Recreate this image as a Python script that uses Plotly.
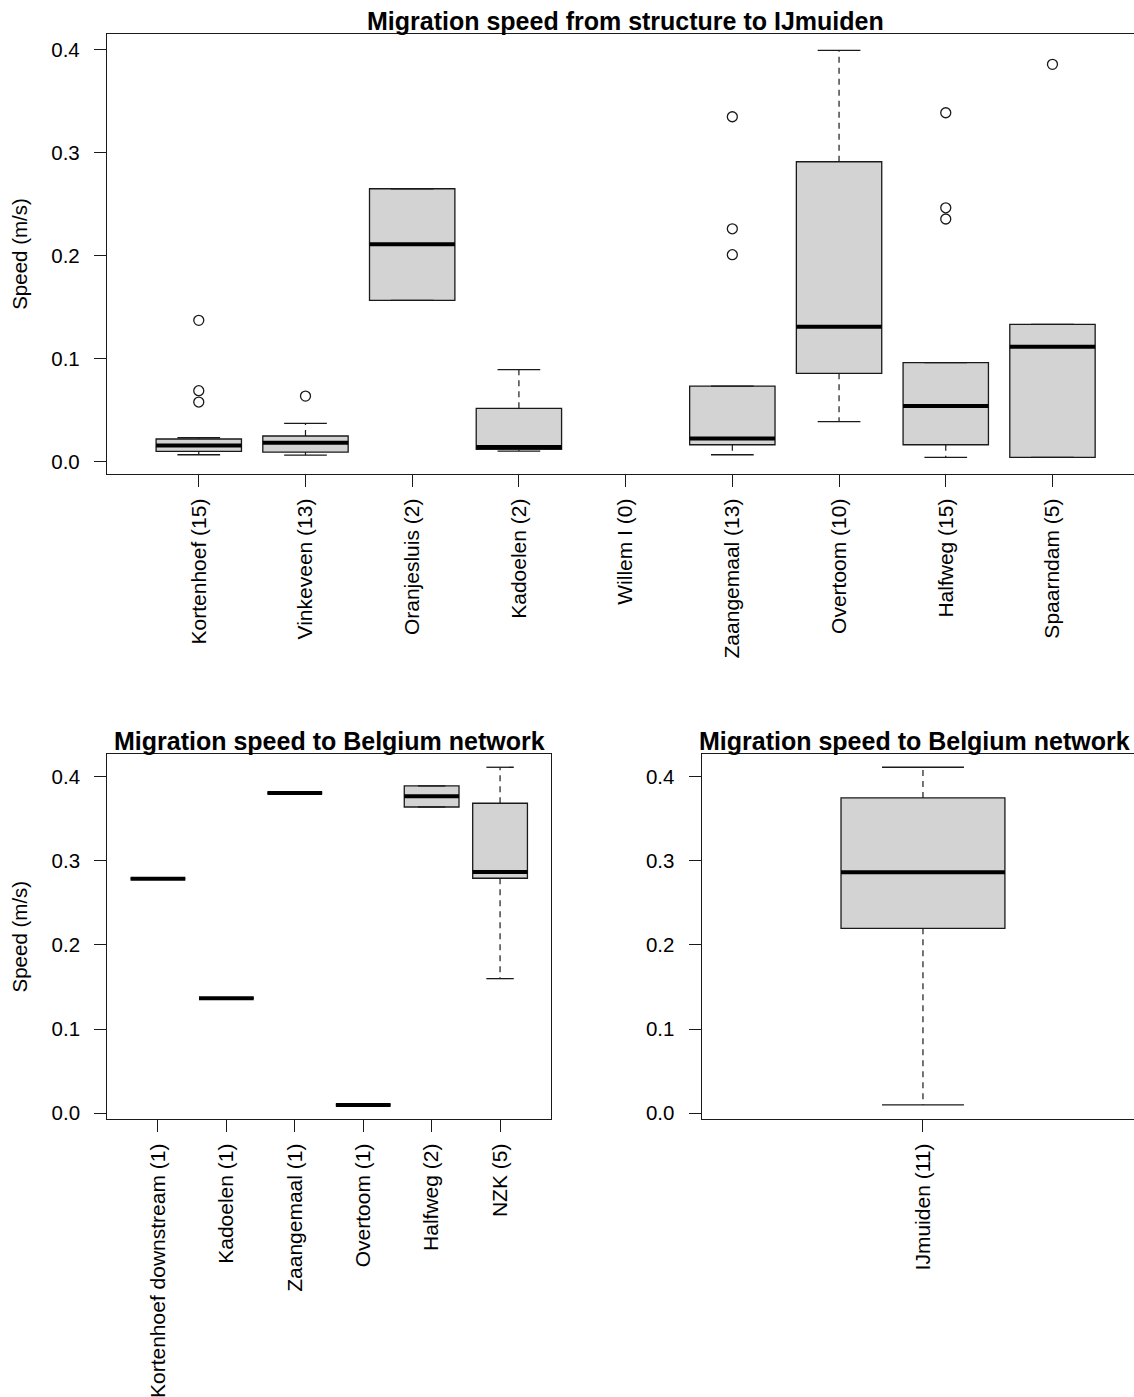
import plotly.graph_objects as go

W, H = 1134, 1397

# ---------------- data ----------------
top_labels = ["Kortenhoef (15)", "Vinkeveen (13)", "Oranjesluis (2)", "Kadoelen (2)", "Willem I (0)",
              "Zaangemaal (13)", "Overtoom (10)", "Halfweg (15)", "Spaarndam (5)"]
top_q1 = [0.0097, 0.0090, 0.1564, 0.0117, None, 0.0161, 0.0855, 0.0161, 0.0039]
top_med = [0.0155, 0.0181, 0.2108, 0.0139, None, 0.0223, 0.1307, 0.0537, 0.1113]
top_q3 = [0.0217, 0.0246, 0.2648, 0.0515, None, 0.0731, 0.2910, 0.0958, 0.1331]
top_lo = [0.0064, 0.0061, 0.1564, 0.0100, None, 0.0064, 0.0385, 0.0039, 0.0039]
top_hi = [0.0229, 0.0369, 0.2648, 0.0890, None, 0.0731, 0.3992, 0.0958, 0.1331]
top_out_group = ["Kortenhoef (15)"] * 3 + ["Vinkeveen (13)"] + ["Zaangemaal (13)"] * 3 + \
                ["Halfweg (15)"] * 3 + ["Spaarndam (5)"]
top_out_value = [0.137, 0.0686, 0.0576, 0.0634, 0.3347, 0.2259, 0.2007, 0.3386, 0.2463, 0.2354, 0.3856]

bl_labels = ["Kortenhoef downstream (1)", "Kadoelen (1)", "Zaangemaal (1)", "Overtoom (1)",
             "Halfweg (2)", "NZK (5)"]
bl_q1 = [0.2788, 0.1367, 0.3806, 0.0099, 0.3640, 0.2793]
bl_med = [0.2788, 0.1367, 0.3806, 0.0099, 0.3767, 0.2868]
bl_q3 = [0.2788, 0.1367, 0.3806, 0.0099, 0.3890, 0.3684]
bl_lo = [0.2788, 0.1367, 0.3806, 0.0099, 0.3640, 0.1600]
bl_hi = [0.2788, 0.1367, 0.3806, 0.0099, 0.3890, 0.4112]

br_labels = ["IJmuiden (11)"]
br_q1 = [0.2198]
br_med = [0.2864]
br_q3 = [0.3747]
br_lo = [0.0099]
br_hi = [0.4112]

y_ticks = [0.0, 0.1, 0.2, 0.3, 0.4]

title_top = "Migration speed from structure to IJmuiden"
title_bottom = "Migration speed to Belgium network"
y_title = "Speed (m/s)"

# ---------------- style ----------------
FONT = "Liberation Sans, Arial, sans-serif"
LINE = "#1a1a1a"
FILL = "#d3d3d3"

fig = go.Figure()


def add_panel(labels, q1, med, q3, lo, hi, xa, ya, boxw, out_group=None, out_value=None):
    pos = list(range(1, len(labels) + 1))
    idx = [i for i in range(len(labels)) if q1[i] is not None]
    xs = [pos[i] for i in idx]
    # whiskers (dashed)
    wx, wy = [], []
    for i in idx:
        wx += [pos[i], pos[i], None, pos[i], pos[i], None]
        wy += [q3[i], hi[i], None, q1[i], lo[i], None]
    fig.add_trace(go.Scatter(x=wx, y=wy, mode="lines", xaxis=xa, yaxis=ya,
                             line=dict(color=LINE, width=1.2, dash="6px,5px"),
                             hoverinfo="skip", showlegend=False))
    # staples
    cx, cy = [], []
    for i in idx:
        for v in (hi[i], lo[i]):
            cx += [pos[i] - boxw / 4, pos[i] + boxw / 4, None]
            cy += [v, v, None]
    fig.add_trace(go.Scatter(x=cx, y=cy, mode="lines", xaxis=xa, yaxis=ya,
                             line=dict(color=LINE, width=1.3),
                             hoverinfo="skip", showlegend=False))
    # boxes
    fig.add_trace(go.Box(x=xs, q1=[q1[i] for i in idx], median=[med[i] for i in idx],
                         q3=[q3[i] for i in idx], lowerfence=[q1[i] for i in idx],
                         upperfence=[q3[i] for i in idx], width=boxw, whiskerwidth=0,
                         fillcolor=FILL, line=dict(color=LINE, width=1.3),
                         boxpoints=False, xaxis=xa, yaxis=ya, showlegend=False))
    # thick medians
    mx, my = [], []
    for i in idx:
        mx += [pos[i] - boxw / 2, pos[i] + boxw / 2, None]
        my += [med[i], med[i], None]
    fig.add_trace(go.Scatter(x=mx, y=my, mode="lines", xaxis=xa, yaxis=ya,
                             line=dict(color="black", width=4),
                             hoverinfo="skip", showlegend=False))
    # outliers
    if out_group:
        ox = [labels.index(g) + 1 for g in out_group]
        fig.add_trace(go.Scatter(x=ox, y=out_value, mode="markers", xaxis=xa, yaxis=ya,
                                 marker=dict(symbol="circle-open", size=10, color=LINE,
                                             line=dict(width=1.3)),
                                 hoverinfo="skip", showlegend=False))
    return pos


pos_top = add_panel(top_labels, top_q1, top_med, top_q3, top_lo, top_hi, "x", "y", 0.8,
                    top_out_group, top_out_value)
pos_bl = add_panel(bl_labels, bl_q1, bl_med, bl_q3, bl_lo, bl_hi, "x2", "y2", 0.8)
pos_br = add_panel(br_labels, br_q1, br_med, br_q3, br_lo, br_hi, "x3", "y3", 0.4)


def px_x(p):
    return p / W


def px_y(p):
    return 1 - p / H


axis_common = dict(showline=True, linecolor=LINE, linewidth=1.3, ticks="outside", ticklen=12,
                   tickcolor=LINE, tickwidth=1.3, showgrid=False, zeroline=False,
                   automargin=False)

xaxis_common = dict(axis_common, tickangle=-90, ticklabelstandoff=3,
                    tickfont=dict(family=FONT, size=21, color="black"))

yaxis_common = dict(axis_common, tickvals=y_ticks, ticktext=[f"{v:.1f}" for v in y_ticks],
                    ticklabelstandoff=10, tickfont=dict(family=FONT, size=20.5, color="black"))

ytitle = dict(text=y_title, font=dict(family=FONT, size=20.5), standoff=18)

fig.update_layout(
    width=W, height=H, template="none",
    margin=dict(l=0, r=0, t=0, b=0),
    paper_bgcolor="white", plot_bgcolor="white", showlegend=False,
    font=dict(family=FONT, color="black"),
    xaxis=dict(xaxis_common, domain=[px_x(107), 1.0], range=[0.14, 9.764], mirror=True,
               tickvals=pos_top, ticktext=top_labels, anchor="y"),
    yaxis=dict(yaxis_common, domain=[px_y(474), px_y(34)], range=[-0.0123, 0.4151],
               anchor="x", title=ytitle),
    xaxis2=dict(xaxis_common, domain=[px_x(107.3), px_x(550.7)], range=[0.26, 6.74], mirror=True,
                tickvals=pos_bl, ticktext=bl_labels, anchor="y2"),
    yaxis2=dict(yaxis_common, domain=[px_y(1119), px_y(754.3)], range=[-0.0068, 0.4266],
                anchor="x2", mirror=True, title=ytitle),
    xaxis3=dict(xaxis_common, domain=[px_x(701.7), 1.0], range=[0.46, 1.515], mirror=True,
                tickvals=pos_br, ticktext=br_labels, anchor="y3"),
    yaxis3=dict(yaxis_common, domain=[px_y(1119), px_y(754.3)], range=[-0.0068, 0.4266],
                anchor="x3"),
    annotations=[
        dict(text=f"<b>{title_top}</b>", x=px_x(625.7), y=px_y(37), xref="paper", yref="paper",
             xanchor="center", yanchor="bottom", showarrow=False,
             font=dict(family=FONT, size=25, color="black")),
        dict(text=f"<b>{title_bottom}</b>", x=px_x(329), y=px_y(757), xref="paper", yref="paper",
             xanchor="center", yanchor="bottom", showarrow=False,
             font=dict(family=FONT, size=25, color="black")),
        dict(text=f"<b>{title_bottom}</b>", x=px_x(1132), y=px_y(757), xref="paper", yref="paper",
             xanchor="right", yanchor="bottom", showarrow=False,
             font=dict(family=FONT, size=25, color="black")),
    ],
)

fig.write_html("out.html")
